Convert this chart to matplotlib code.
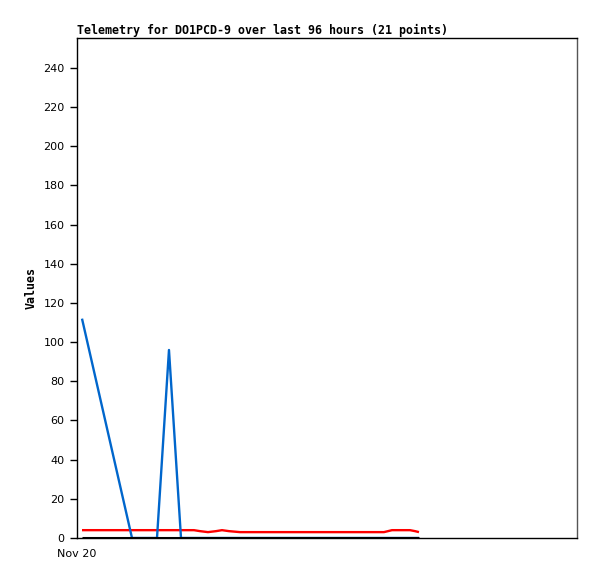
import matplotlib
matplotlib.use("Agg")
import matplotlib.pyplot as plt

# hours since start of window (96 h window)
hours = [0.96, 10.56, 15.36, 17.66, 19.97, 22.46, 23.62, 25.15, 26.69, 27.84,
         29.18, 31.30, 38.98, 46.66, 54.34, 58.94, 60.48, 62.40, 63.94, 64.90, 65.66]
red_vals = [4, 4, 4, 4, 4, 4, 3.5, 3, 3.5, 4, 3.5, 3, 3, 3, 3, 3, 4, 4, 4, 3.5, 3]
blue_vals = [112, 0, 0, 96, 0, 0, 0, 0, 0, 0, 0, 0, 0, 0, 0, 0, 0, 0, 0, 0, 0]
black_vals = [0] * 21

yticks = list(range(0, 241, 20))
title = "Telemetry for DO1PCD-9 over last 96 hours (21 points)"

fig = plt.figure(figsize=(5.97, 5.79), dpi=100)
ax = fig.add_axes([77/597, 41/579, 500/597, 500/579])

ax.plot(hours, red_vals, color="#ff0000", lw=1.7, solid_capstyle="butt")
ax.plot(hours, blue_vals, color="#0066cc", lw=1.7, solid_capstyle="butt")
ax.plot(hours, black_vals, color="#000000", lw=2.2, solid_capstyle="butt")

ax.set_xlim(0, 96)
ax.set_ylim(0, 255.3)
ax.set_yticks(yticks)
ax.set_yticklabels([str(t) for t in yticks], fontsize=8, family="DejaVu Sans")
ax.set_xticks([0])
ax.set_xticklabels(["Nov 20"], fontsize=8, family="DejaVu Sans")
ax.tick_params(axis="y", length=5, width=1, pad=4)
ax.tick_params(axis="x", length=0, pad=8)

for s in ax.spines.values():
    s.set_linewidth(1)
    s.set_color("#000000")
ax.spines["right"].set_color("#555555")

ax.set_title(title, loc="left", fontsize=8.35, family="DejaVu Sans Mono",
             fontweight="bold", pad=3, x=0)
ax.set_ylabel("Values", fontsize=8.35, family="DejaVu Sans Mono",
              fontweight="bold", labelpad=4)

fig.savefig("out.png", dpi=100)
